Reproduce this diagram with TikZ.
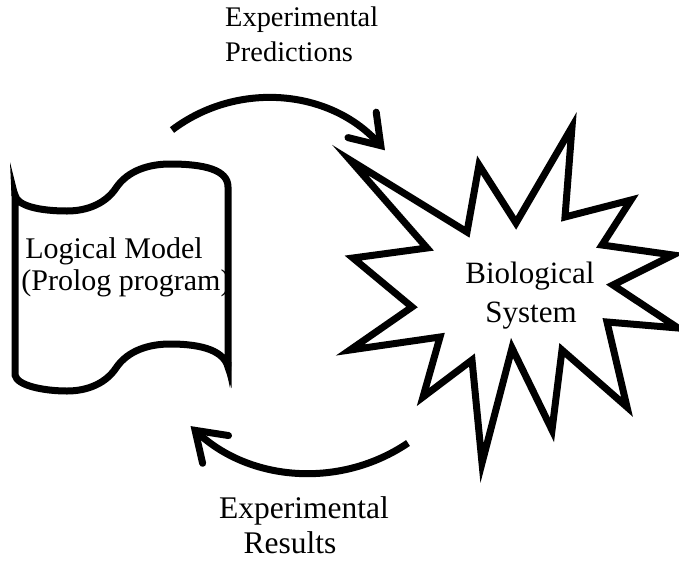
\documentclass[tikz,border=0pt]{standalone}
\usepackage{fontspec}
\setmainfont{Liberation Serif}
\usetikzlibrary{arrows.meta}
\begin{document}
\begin{tikzpicture}[x=1pt,y=-1pt,
  outline/.style={line width=7pt, line join=miter, miter limit=25},
  flow/.style={line width=7pt, -{Straight Barb[length=28pt,width=38pt,line cap=round,line join=miter]}},
  lbl/.style={inner sep=0pt, anchor=base}]
\useasboundingbox (0,0) rectangle (679,560);
% punched tape shape (Logical Model)
\draw[outline] (15,195) .. controls (17,206) and (40,211) .. (67,211)
  .. controls (88,211) and (106,203) .. (116,188)
  .. controls (128,170) and (150,164) .. (170,164)
  .. controls (205,164) and (228,170) .. (228,187)
  -- (228,367)
  .. controls (224,352) and (205,344) .. (170,344)
  .. controls (150,344) and (128,350) .. (116,368)
  .. controls (106,383) and (88,391) .. (67,391)
  .. controls (45,391) and (17,386) .. (15,375)
  -- cycle;
\fill (10,162) -- (11.5,196) -- (18.5,196) -- cycle;
\fill (230,388) -- (224.5,362) -- (231.5,362) -- cycle;
% star (Biological System)
\draw[outline] (350,160) -- (467,232) -- (479,165) -- (516,223) -- (572,127)
  -- (565,217) -- (631,200) -- (602,245) -- (673,255) -- (613,285)
  -- (678,328) -- (607,322) -- (627,407) -- (562,350) -- (552,430)
  -- (512,348) -- (482,463) -- (472,360) -- (423,397) -- (440,337)
  -- (350,350) -- (412,307) -- (353,258) -- (427,248) -- cycle;
% texts
\node[lbl] (lm1) at (114,258) {\fontsize{30}{36}\selectfont Logical Model};
\node[lbl] (lm2) at (126,290) {\fontsize{30}{36}\selectfont (Prolog program)};
\node[lbl] (bs1) at (530,283) {\fontsize{31}{37}\selectfont Biological};
\node[lbl] (bs2) at (531,322) {\fontsize{31}{37}\selectfont System};
\node[lbl, anchor=base west] (tp1) at (225,26.7) {\fontsize{28.4}{34}\selectfont Experimental};
\node[lbl, anchor=base west] (tp2) at (225,61.7) {\fontsize{28.4}{34}\selectfont Predictions};
\node[lbl] (bt1) at (304,518) {\fontsize{31.5}{37}\selectfont Experimental};
\node[lbl] (bt2) at (290,553) {\fontsize{31.5}{37}\selectfont Results};
% arrows
\coordinate (predstart) at (172,130);
\coordinate (resstart) at (408,443);
\draw[flow] (predstart) arc[start angle=-127.1, end angle=-42, radius=158.2];
\draw[flow] (resstart) arc[start angle=55.9, end angle=133, radius=175];
\end{tikzpicture}
\end{document}
